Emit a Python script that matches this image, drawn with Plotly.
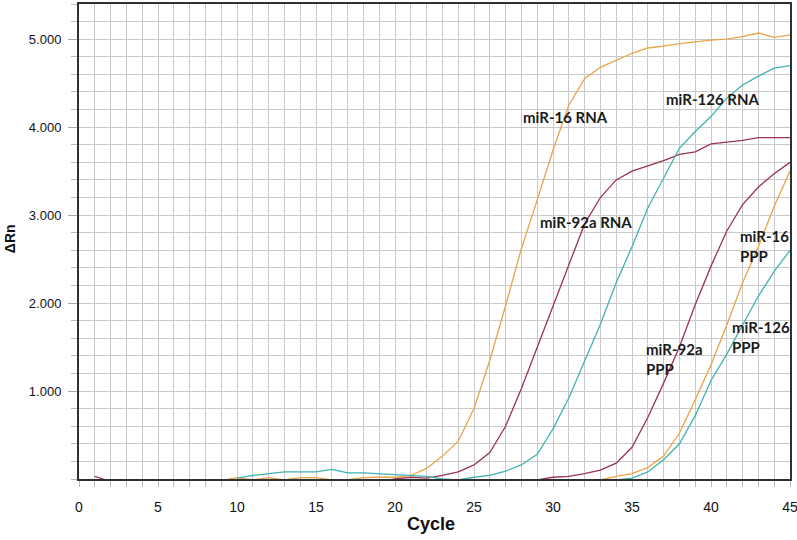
import plotly.graph_objects as go

# ---------------- data ----------------
mir16_rna_cycles = list(range(9, 46))
mir16_rna_drn = [-0.02, 0.015, -0.01, 0.015, -0.01, 0.015, 0.015, -0.01, -0.01, 0.015, 0.02,
                 0.02, 0.04, 0.12, 0.26, 0.43, 0.80, 1.35, 1.97, 2.62, 3.17, 3.74, 4.25, 4.55,
                 4.68, 4.76, 4.84, 4.90, 4.92, 4.95, 4.97, 4.99, 5.00, 5.03, 5.07, 5.02, 5.05]

mir126_rna_cycles = list(range(10, 46))
mir126_rna_drn = [0.01, 0.04, 0.06, 0.08, 0.08, 0.08, 0.11, 0.07, 0.07, 0.06, 0.05, 0.04,
                  0.03, 0.00, -0.01, 0.02, 0.04, 0.09, 0.16, 0.28, 0.57, 0.92, 1.33, 1.76,
                  2.23, 2.64, 3.08, 3.42, 3.76, 3.95, 4.12, 4.33, 4.48, 4.58, 4.67, 4.70]

mir92a_rna_cycles = list(range(1, 46))
mir92a_rna_drn = [0.03] + [-0.03] * 18 + [0.00, 0.02, 0.01, 0.04, 0.08, 0.16, 0.30, 0.60,
                  1.03, 1.50, 1.98, 2.45, 2.90, 3.20, 3.40, 3.50, 3.56, 3.62, 3.69, 3.72,
                  3.81, 3.83, 3.85, 3.88, 3.88, 3.88]

mir92a_ppp_cycles = list(range(29, 46))
mir92a_ppp_drn = [-0.01, 0.02, 0.03, 0.06, 0.10, 0.18, 0.36, 0.70, 1.09, 1.50, 1.98, 2.42,
                  2.82, 3.12, 3.32, 3.47, 3.60]

mir16_ppp_cycles = list(range(33, 46))
mir16_ppp_drn = [-0.01, 0.03, 0.06, 0.13, 0.26, 0.52, 0.90, 1.30, 1.75, 2.23, 2.64, 3.10, 3.50]

mir126_ppp_cycles = list(range(34, 46))
mir126_ppp_drn = [-0.01, 0.01, 0.08, 0.22, 0.40, 0.72, 1.12, 1.42, 1.75, 2.08, 2.36, 2.60]

x_tick_vals = [0, 5, 10, 15, 20, 25, 30, 35, 40, 45]
y_tick_vals = [1, 2, 3, 4, 5]
y_tick_text = ["1.000", "2.000", "3.000", "4.000", "5.000"]

labels = ["miR-16 RNA", "miR-126 RNA", "miR-92a RNA",
          "miR-16<br>PPP", "miR-126<br>PPP", "miR-92a<br>PPP"]
label_x = [30.76, 40.1, 32.1, 41.7, 41.2, 35.76]
label_y = [4.11, 4.32, 2.92, 2.65, 1.61, 1.36]
label_anchor = ["center", "center", "center", "left", "left", "left"]

# ---------------- styling ----------------
ORANGE = "#E8A448"
MAROON = "#9A3450"
TEAL = "#3FB3B3"

series = [
    (mir16_rna_cycles, mir16_rna_drn, ORANGE),
    (mir92a_rna_cycles, mir92a_rna_drn, MAROON),
    (mir126_rna_cycles, mir126_rna_drn, TEAL),
    (mir92a_ppp_cycles, mir92a_ppp_drn, MAROON),
    (mir16_ppp_cycles, mir16_ppp_drn, ORANGE),
    (mir126_ppp_cycles, mir126_ppp_drn, TEAL),
]

fig = go.Figure()
for xs, ys, col in series:
    fig.add_trace(go.Scatter(x=xs, y=ys, mode="lines",
                             line=dict(color=col, width=1.3), showlegend=False,
                             hoverinfo="skip"))

for txt, lx, ly, anc in zip(labels, label_x, label_y, label_anchor):
    fig.add_annotation(x=lx, y=ly, text=txt, showarrow=False, xanchor=anc,
                       yanchor="middle", align="left",
                       font=dict(family="Lato", size=15, color="#1a1a1a", weight=700))

fig.add_annotation(xref="paper", yref="paper", x=0.4945, y=-0.095, text="Cycle",
                   showarrow=False, xanchor="center", yanchor="middle",
                   font=dict(family="Liberation Sans", size=18, color="#111", weight=700))
fig.add_annotation(xref="paper", yref="paper", x=-0.097, y=0.505, text="ΔRn",
                   textangle=-90, showarrow=False, xanchor="center", yanchor="middle",
                   font=dict(family="Liberation Sans", size=14, color="#111", weight=700))

fig.update_xaxes(range=[0, 45], tickvals=x_tick_vals, showgrid=True, automargin=False,
                 gridcolor="#C9C9C9", gridwidth=1,
                 minor=dict(dtick=1, showgrid=True, gridcolor="#C9C9C9", gridwidth=1,
                            ticks="outside", ticklen=6, tickcolor="#BBBBBB"),
                 ticks="outside", ticklen=6, tickcolor="#BBBBBB",
                 showline=True, linecolor="#303030", linewidth=2, mirror=True,
                 zeroline=False, ticklabelstandoff=8, ticklabeloverflow="allow",
                 tickfont=dict(family="Liberation Sans", size=14, color="#111"))
fig.update_yaxes(range=[0, 5.4], tickvals=y_tick_vals, ticktext=y_tick_text,
                 showgrid=True, gridcolor="#C9C9C9", gridwidth=1, automargin=False,
                 minor=dict(dtick=0.2, tick0=0, showgrid=True, gridcolor="#C9C9C9",
                            gridwidth=1, ticks="outside", ticklen=6, tickcolor="#BBBBBB"),
                 ticks="outside", ticklen=9, tickcolor="#AAAAAA",
                 showline=True, linecolor="#303030", linewidth=2, mirror=True,
                 zeroline=False, ticklabelstandoff=4,
                 tickfont=dict(family="Liberation Sans", size=13, color="#111"))

fig.update_layout(width=797, height=540, margin=dict(l=79, r=7, t=4, b=61),
                  plot_bgcolor="white", paper_bgcolor="white")

fig.write_html("out.html", config={"displayModeBar": False},
               post_script="document.body.style.margin='0';document.body.style.overflow='hidden';")
